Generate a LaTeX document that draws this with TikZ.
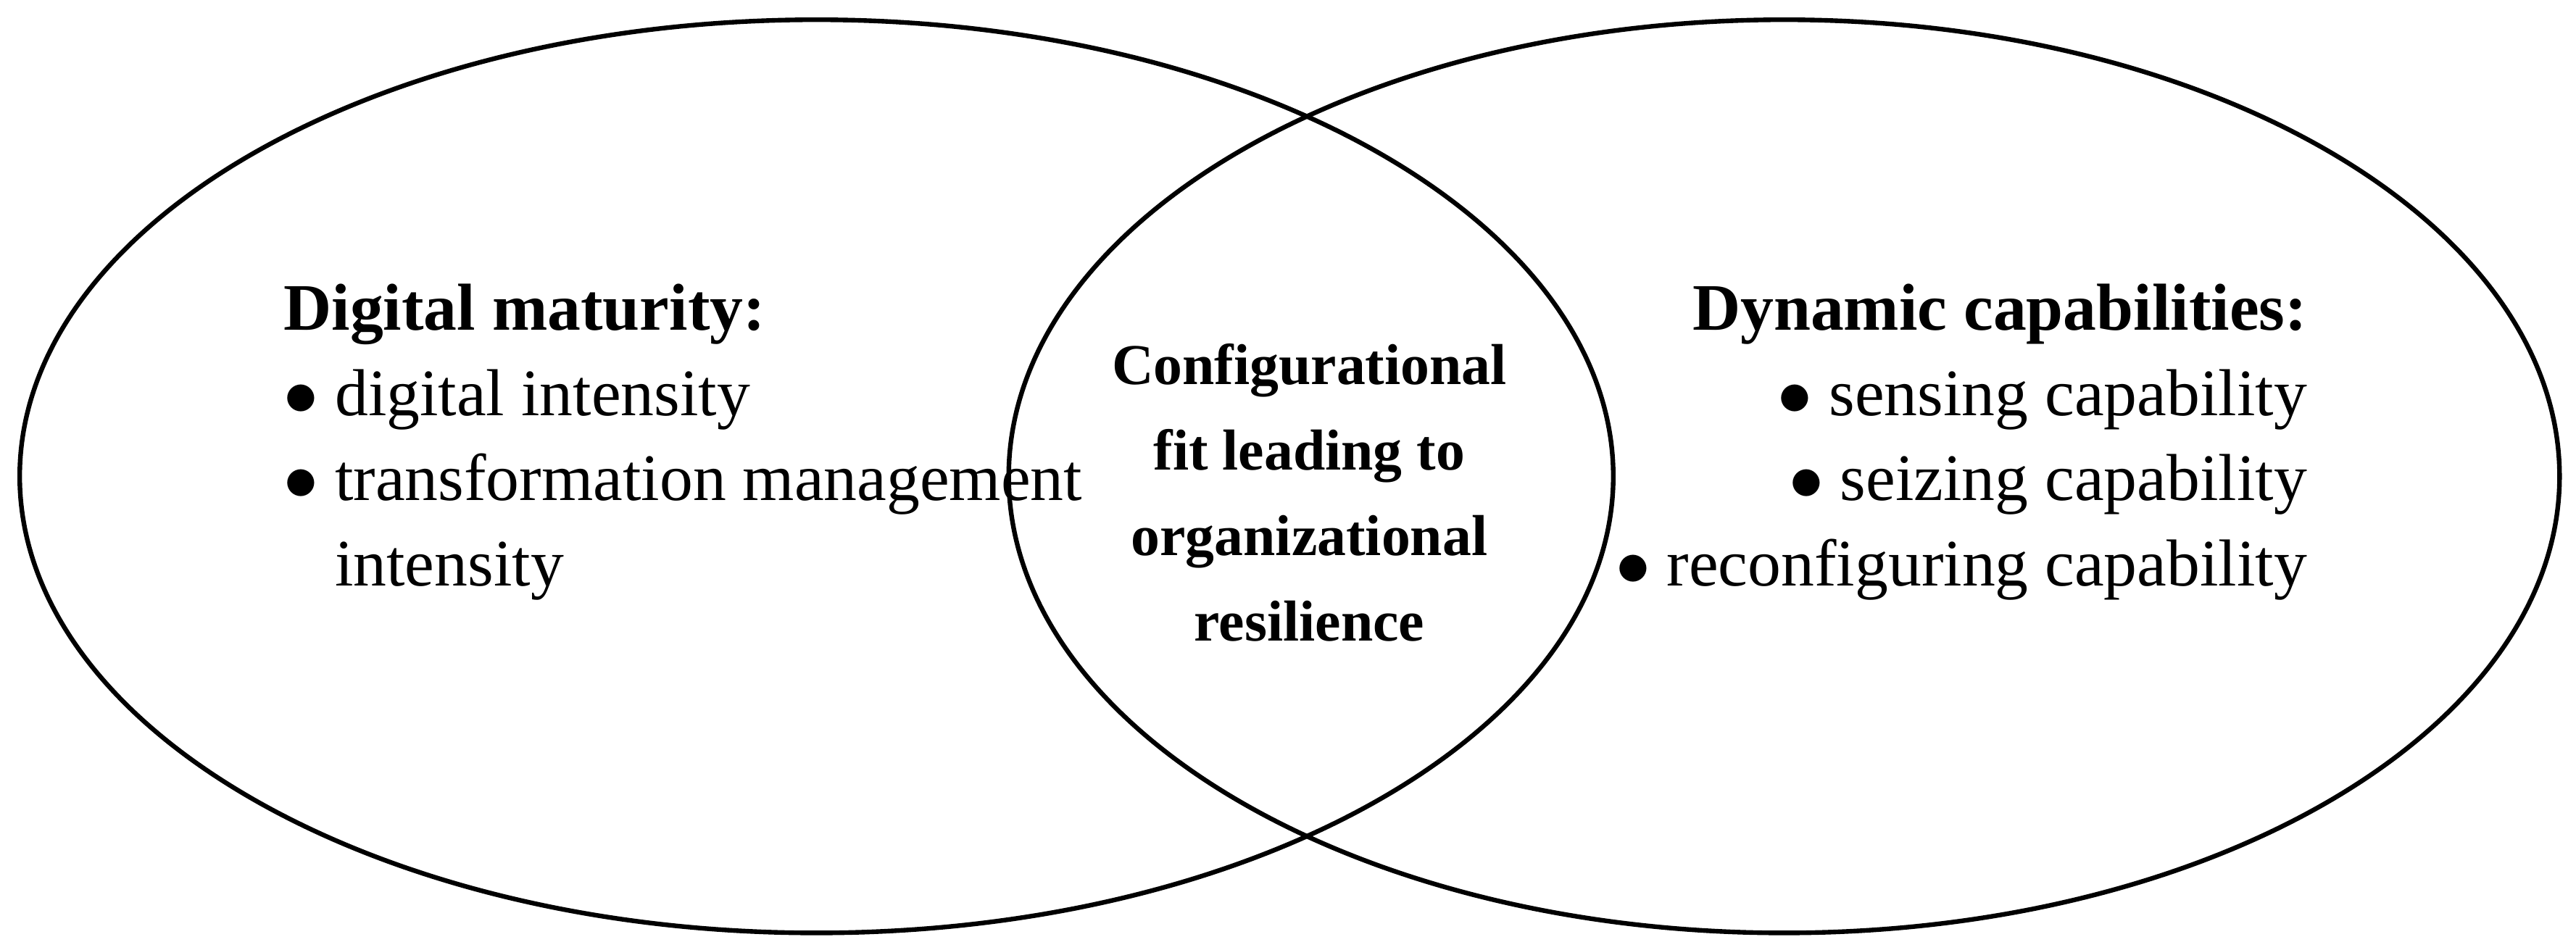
\documentclass[tikz,border=0pt]{standalone}
\usepackage{fontspec}
\setmainfont{Liberation Serif}
\begin{document}
\begin{tikzpicture}[x=0.01cm, y=-0.01cm]
        \tikzstyle{setring} = [draw, thick]
        \tikzstyle{block} = [font=\fontsize{11.5}{14.8}\selectfont, inner sep=0pt]
        \tikzstyle{core} = [font=\bfseries\fontsize{10}{14.8}\selectfont, align=center, inner sep=0pt]
        \useasboundingbox (0,0) rectangle (1568,578);
        \draw[setring] (497,290) ellipse [x radius=485, y radius=278];
        \draw[setring] (1086,290) ellipse [x radius=472, y radius=278];
        \node[block, anchor=north west, align=left] (maturity) at (172,172)
        {\textbf{Digital maturity:}\\ $\bullet$ digital intensity\\ $\bullet$ transformation management\\ \hphantom{$\bullet$ }intensity};
        \node[block, anchor=north east, align=right] (capability) at (1405,172)
        {\textbf{Dynamic capabilities:}\\ $\bullet$ sensing capability\\ $\bullet$ seizing capability\\ $\bullet$ reconfiguring capability};
        \node[core] (fit) at (797,300)
        {Configurational\\ fit leading to\\ organizational\\ resilience};
    \end{tikzpicture}
\end{document}
